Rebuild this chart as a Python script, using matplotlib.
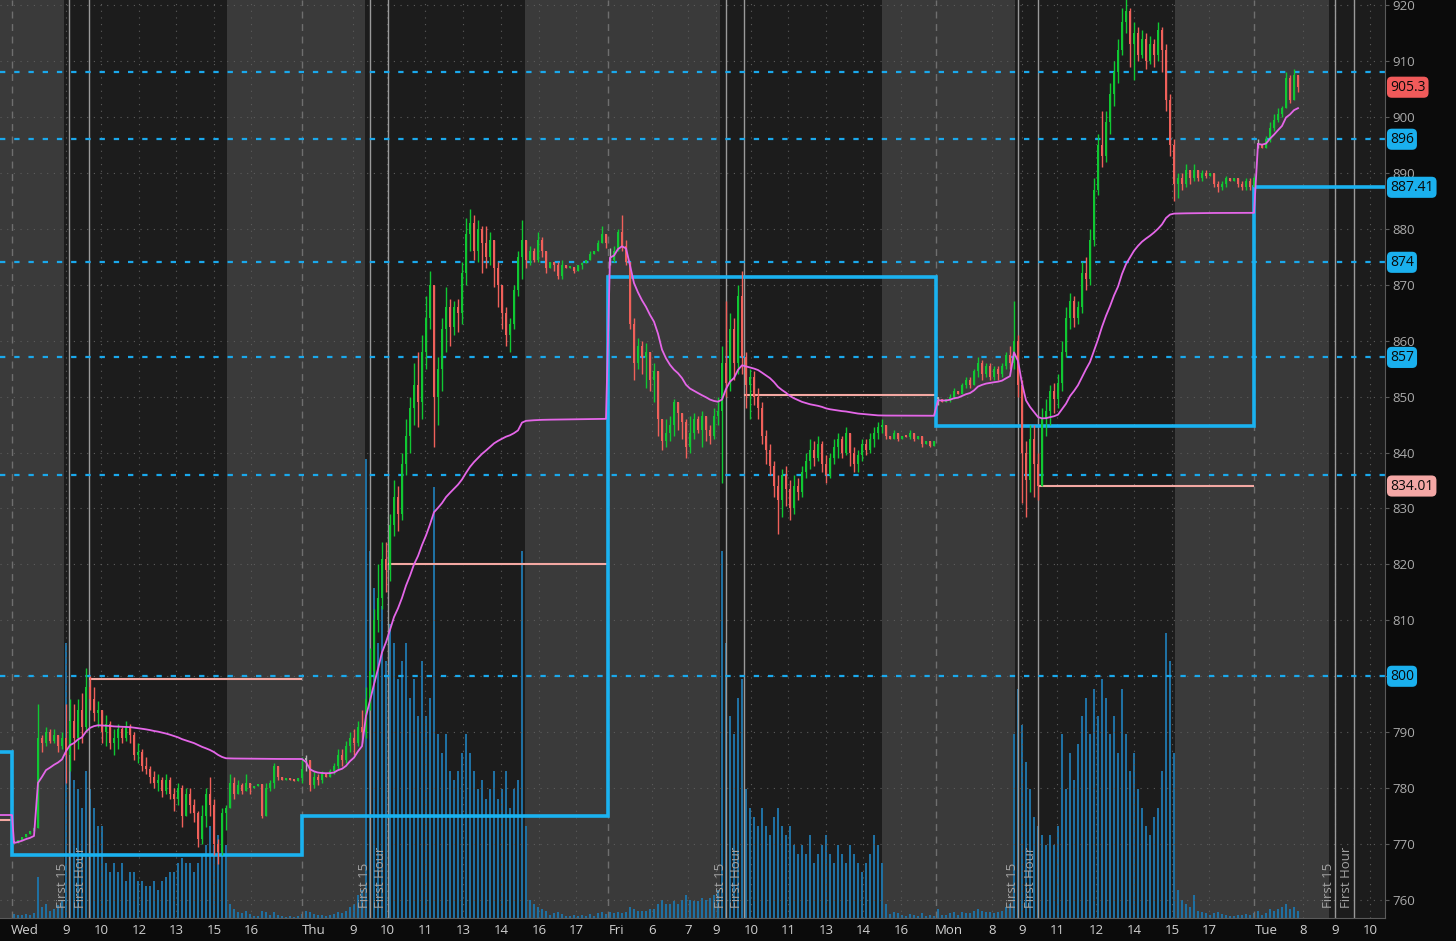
import numpy as np
import matplotlib.pyplot as plt

plt.rcParams['font.family'] = ['Open Sans', 'DejaVu Sans']

N = np.nan

# ---- intraday bars (close / high / low / volume), one array per session ----
wed_pre_c = [770.2, 770.8, 771.3, 771.8, 772.3, 772.8, 789.0, 788.0, 790.0, 788.5, 789.5, 787.5, 789.0]
wed_pre_h = [N, N, N, N, N, N, 795, 789.5, 791, 790.5, 790.5, 789.5, 790]
wed_pre_l = [N, N, N, N, N, N, 779, 786.5, 787.5, 788, 788, 786.5, 787]
wed_pre_v = [0.4, 0.3, 0.3, 0.4, 0.3, 0.5, 4.5, 1.2, 1.5, 0.8, 1.0, 1.4, 2.0]

wed_c = [786, 792, 789, 794, 791, 798, 796, 793.5, 794, 790,
         791.5, 788, 789, 790.5, 789, 791, 789.5, 786, 786.5, 784,
         783.5, 782, 781, 781.5, 779.5, 781.5, 779, 778, 780, 775,
         779, 777, 775.5, 771, 775, 779, 777, 770, 768.5, 775.5, 776.5]
wed_h = [795, 796, 795, 796, 797, 801.5, 800, 798, 795.5, 794,
         793, 792, 790.5, 791.5, 791, 792, 791.5, 790, 788, 787,
         785.5, 784, 783, 782.5, 782, 782.5, 782, 780, 781, 780.5,
         780, 780, 778, 776, 777, 780, 782, 778, 771, 776.5, 777]
wed_l = [781, 783, 785, 787, 788, 790, 794, 792, 791, 788,
         787.5, 787, 786, 787, 788, 788.5, 788, 785, 784.5, 783,
         782.5, 781, 780, 779.5, 778.5, 779, 778, 776, 777, 773,
         775, 775.5, 774, 769.5, 770, 773, 775, 768, 766.5, 768, 772.5]
wed_v = [30, 18, 15, 14, 12, 16, 14, 12, 10, 10,
         6, 5, 6, 5, 6, 4, 5, 5, 4, 4,
         3.5, 3.5, 4, 3, 4, 4.5, 5, 5, 6, 6.5,
         6, 6, 5, 6, 7, 8, 10, 8, 9, 10, 8]

wed_post_c = [781, 779, 780.5, 779.5, 781, 780, 780.3, 780.8, 775, 780,
              781, 784, 782, 781.5, 781.8, 781.5, 781.2, 781.8, 783.5]
wed_post_h = [782.5, 782, 781.5, 781, 782.5, 781, N, N, 780.5, 781,
              781.5, 784.5, 783, N, N, N, N, N, 785.5]
wed_post_l = [778, 778, 779.5, 779, 779.5, 779, N, N, 774.7, 775,
              779.5, 780, 781.5, N, N, N, N, N, 781]
wed_post_v = [1.5, 1.0, 0.6, 0.5, 0.8, 0.4, 0.2, 0.2, 0.8, 0.6,
              0.3, 0.6, 0.3, 0.2, 0.1, 0.2, 0.1, 0.2, 0.4]

thu_pre_c = [785, 780.5, 782, 781.5, 782.5, 782, 783, 784, 786, 785, 787.5, 789, 788, 791, 790]
thu_pre_h = [786, 785, 783, 782.5, 783, N, 783.5, 784.5, 787, 787, 788.5, 790, 790.5, 792, 794]
thu_pre_l = [783, 779.5, 780, 780.5, 781, N, 782, 782.5, 783.5, 784, 784.5, 786.5, 786, 787.5, 788]
thu_pre_v = [0.8, 0.6, 0.4, 0.3, 0.3, 0.2, 0.3, 0.4, 0.6, 0.5, 0.8, 1.2, 1.5, 2.5, 3]

thu_c = [796, 801, 810, 814, 821, 819, 827, 832, 829, 838,
         843, 848, 852, 849, 858, 864, 870, 850, 855, 862,
         866, 862.5, 866, 865, 872, 879, 881, 876, 880, 877.5,
         875, 878, 873, 870, 865, 861, 863, 869, 875, 878, 874.5]
thu_h = [798, 805, 812, 820, 824, 824, 829, 835, 834, 840,
         846, 850, 856, 858, 861, 868, 872.5, 868, 857, 864,
         869.5, 867.5, 867, 867.5, 874, 882, 883.5, 882.5, 881.5, 880.5,
         880.5, 879.5, 878, 874, 870, 866, 864, 870, 876, 881.5, 877.5]
thu_l = [789, 794, 799, 808, 812, 815, 817, 825, 826, 828,
         836, 840, 845, 844.5, 846, 855, 862, 841, 845, 851,
         858, 859, 861, 861.5, 863, 870, 876, 874.5, 874, 872,
         873, 873.5, 869.5, 866, 862, 859, 858, 862, 868, 871, 873]
thu_v = [50, 40, 36, 30, 34, 28, 32, 30, 26, 28,
         30, 24, 26, 22, 28, 22, 24, 47, 20, 18,
         20, 16, 15, 16, 18, 20, 18, 16, 14, 15,
         13, 14, 16, 13, 14, 16, 12, 14, 15, 40, 10]

thu_post_c = [876, 874.5, 878, 876, 873, 874, 873.5, 871.5, 873.5, 873,
              873.2, 872.5, 873.5, 873.8, 874.5, 875.5, 876, 877.5, 879, 877.5]
thu_post_h = [877, 876.5, 879.5, 878.5, 876, N, 874, 874, 874.5, N,
              N, 873.2, N, 874, N, 876, N, 878, 880.5, 878.5]
thu_post_l = [873.5, 874, 874, 875, 872, N, 872.5, 871, 871, N,
              N, 872, N, 872.8, N, 874.5, N, 876, 877.5, 876.5]
thu_post_v = [2, 1.5, 1.2, 1, 0.8, 0.3, 0.5, 0.6, 0.4, 0.2,
              0.2, 0.3, 0.2, 0.3, 0.2, 0.4, 0.2, 0.5, 0.6, 0.4]

fri_pre_c = [874.5, 876, 879.5, 877, 874, 863, 856, 859, 857, 858,
             853, 854.5, 846, 842, 843.5, 845, 849, 847, 845.5, 841,
             843.5, 846, 844, 846.5, 844, 843, 846.5, 847.5]
fri_pre_h = [876.5, 877, 880, 882.5, 878, 871, 864, 860.5, 860, 859.5,
             858, 856, 854, 846, 846, 846.5, 849.5, 849, 847, 846,
             846.5, 847, 846.5, 847.5, 846, 845, 848, 850]
fri_pre_l = [873.5, 874, 876, 876, 873.5, 862, 853, 855, 854, 851.5,
             851, 849, 843, 840.5, 841, 842, 843, 844, 842.5, 839,
             840, 842.5, 843.5, 841, 842, 841.5, 842.5, 845]
fri_pre_v = [0.6, 0.5, 0.6, 0.5, 0.6, 1.2, 1, 0.8, 0.8, 0.8,
             1, 1, 1.5, 2, 1.5, 1.5, 1.8, 1.5, 2, 2.5,
             2, 1.8, 1.8, 2.2, 2, 2.2, 2.5, 3]

fri_c = [856, 852.5, 862, 856, 868, 857, 852, 853.5, 850, 848,
         843, 840.5, 837.5, 834, 831.5, 836, 833.5, 830, 834, 833,
         836.5, 838.5, 840.5, 839, 841.5, 838, 836, 839, 841, 842.5,
         840, 843.5, 840, 838, 839.5, 841.5, 840.5, 842.5, 843.5, 844.5, 845]
fri_h = [859, 867, 865, 864, 870, 872.5, 858, 855, 854.5, 851.5,
         849, 844, 841.5, 838.5, 836, 837, 837.5, 835, 836, 835.5,
         837.5, 840, 842.5, 842, 843, 842, 839.5, 840, 842.5, 843.5,
         843, 844.5, 843, 841, 840.5, 842.5, 842.5, 843.5, 844.5, 845.5, 846]
fri_l = [834.5, 850, 851, 853, 854, 854, 848, 846, 848.5, 846,
         841.5, 838, 836, 832, 825.5, 828.5, 830.5, 828, 829, 831.5,
         832, 835.5, 837, 837.5, 838.5, 836.5, 834.5, 835.5, 838, 839,
         839, 839.5, 837.5, 836.5, 836.5, 838.5, 839.5, 840, 841, 842.5, 843.5]
fri_v = [40, 30, 22, 20, 24, 26, 14, 12, 11, 10,
         12, 10, 9, 11, 12, 10, 9, 10, 8, 7,
         8, 7, 9, 6, 7, 8, 9, 7, 6, 8,
         7, 6, 8, 7, 6, 5, 6, 7, 9, 8, 6]

fri_post_c = [843, 842.5, 843.5, 842.5, 843, 842.8, 843.5, 842.5, 843, 841.5, 842, 841.2, 842]
fri_post_h = [844, N, 844, 843.5, N, N, 844, 843.5, N, 843, N, 842, N]
fri_post_l = [842.5, N, 842.5, 842, N, N, 842.5, 842, N, 841, N, 841, N]
fri_post_v = [1.5, 0.4, 0.6, 0.5, 0.3, 0.2, 0.4, 0.3, 0.2, 0.5, 0.2, 0.3, 0.2]

mon_pre_c = [849.5, 849, 849.5, 850, 851, 850.5, 852, 853, 852, 854.5,
             856, 854, 855.5, 853.5, 855, 854, 855.5, 857.5, 856, 860]
mon_pre_h = [850, N, N, 850.5, 851.5, N, 852.5, 853.5, 853.5, 855,
             857, 856.5, 856, 856, 855.5, 855.5, 856, 858, 859, 867]
mon_pre_l = [848.5, N, N, 849, 849.5, N, 850.5, 851.5, 851.5, 852,
             853.5, 853, 853.5, 853, 853, 853, 853.5, 855, 855, 855]
mon_pre_v = [1, 0.3, 0.3, 0.5, 0.6, 0.3, 0.6, 0.5, 0.5, 0.8,
             1, 0.8, 0.6, 0.6, 0.5, 0.6, 0.8, 1.2, 1.5, 20]

mon_c = [852, 840, 835, 842.5, 838, 834, 846, 847.5, 851, 849.5,
         852.5, 858, 864, 867, 864, 866, 872, 871, 878, 887,
         895, 893, 899, 904, 908, 912, 917, 919, 913, 915,
         911, 914, 910, 913, 911, 915.5, 912, 903, 895, 888]
mon_h = [861, 853, 842, 845, 845, 840, 848, 849.5, 852, 852.5,
         854, 860, 866, 868.5, 868, 867, 874, 875, 880, 889,
         897, 901, 901, 906, 910, 914, 919.5, 921, 919.5, 917,
         916, 915.5, 915, 914.5, 914, 917, 916, 913, 904, 896]
mon_l = [850, 831, 828.5, 833, 832, 831.5, 834, 843, 845, 847,
         848, 851, 857, 862, 862.5, 863, 865, 869, 870, 877,
         886, 891, 892, 897, 902, 906, 911, 915, 909, 906.5,
         910, 910.5, 908.5, 909.5, 909, 910, 908, 901, 893, 885]
mon_v = [25, 21, 17, 14, 11, 10, 9, 8, 9, 8,
         10, 20, 14, 18, 15, 19, 22, 24, 20, 25,
         22, 26, 24, 20, 22, 18, 25, 20, 16, 18,
         14, 12, 10, 9, 11, 12, 16, 31, 28, 18]

mon_post_c = [889, 888, 890.5, 889, 890.5, 889, 890, 889.5, 890, 888,
              887.5, 888, 889, 888.5, 889, 888, 887.5, 888.5, 887.5, 889]
mon_post_h = [890, 890, 891.5, 890.5, 891.5, 890.5, 890.5, 890.5, N, 889.5,
              888.5, 888.5, 889.5, N, N, 889, 888.5, 889, 889, 889.5]
mon_post_l = [885.5, 887, 887.5, 888, 888.5, 888.5, 888.5, 889, N, 887.5,
              886.5, 887, 887.5, N, N, 887.5, 887, 887, 887, 887.5]
mon_post_v = [3, 2, 1.5, 1.2, 2.5, 0.8, 0.6, 0.5, 0.3, 0.5,
              0.6, 0.4, 0.3, 0.2, 0.2, 0.3, 0.3, 0.4, 0.3, 0.5]

tue_pre_c = [895, 894.5, 896, 898, 899.5, 900.5, 901.5, 907, 903, 907.5, 905.3]
tue_pre_h = [896, N, 896.5, 899, 900.5, 901.5, 902, 908, 907.5, 908.5, 907.5]
tue_pre_l = [894.5, N, 894.5, 895.5, 897.5, 899, 900, 902, 902.5, 903, 904.5]
tue_pre_v = [0.8, 0.3, 0.5, 1, 0.8, 1, 1.2, 1.5, 1, 1.2, 0.8]

# ---- reference levels ----
levels = [908, 896, 874, 857, 836, 800]
level_tags = ['896', '874', '857', '800']
step_vals = [786.5, 768, 775, 871.3, 844.7, 887.41]
orl_vals = [774.3, 799.5, 820.1, 850.3, 834.01]
prev_vwap = 775.2
last_price = 905.3

xtick_labels = ['Wed', '9', '10', '12', '13', '15', '16', 'Thu', '9', '10', '11', '13', '14',
                '16', '17', 'Fri', '6', '7', '9', '10', '11', '13', '14', '16', 'Mon', '8',
                '9', '11', '12', '14', '15', '17', 'Tue', '8', '9', '10']

# ---- layout (pixel-like x units) ----
STEP = 4
xtick_pos = [25, 66, 101, 139, 176, 214, 251, 314, 353, 387, 425, 463, 501, 539, 576, 616,
             652, 688, 716, 751, 788, 826, 863, 901, 949, 992, 1022, 1057, 1096, 1134, 1172,
             1209, 1266, 1303, 1335, 1370]
day_edges = [0, 12, 302, 608, 936, 1254, 1385]
orl_start = [0, 89, 388, 744, 1038]
bands = [(0, 64, 'l'), (64, 227, 'd'), (227, 365, 'l'), (365, 525, 'd'), (525, 720, 'l'),
         (720, 882, 'd'), (882, 1015, 'l'), (1015, 1175, 'd'), (1175, 1329, 'l'), (1329, 1385, 'd')]
first_lines = [(69, 89), (370, 388), (726, 744), (1018, 1038), (1335, 1354)]

sessions = [
    (14, True, wed_pre_c, wed_pre_h, wed_pre_l, wed_pre_v),
    (66, False, wed_c, wed_h, wed_l, wed_v),
    (230, False, wed_post_c, wed_post_h, wed_post_l, wed_post_v),
    (306, True, thu_pre_c, thu_pre_h, thu_pre_l, thu_pre_v),
    (366, False, thu_c, thu_h, thu_l, thu_v),
    (530, False, thu_post_c, thu_post_h, thu_post_l, thu_post_v),
    (610, True, fri_pre_c, fri_pre_h, fri_pre_l, fri_pre_v),
    (722, False, fri_c, fri_h, fri_l, fri_v),
    (886, False, fri_post_c, fri_post_h, fri_post_l, fri_post_v),
    (938, True, mon_pre_c, mon_pre_h, mon_pre_l, mon_pre_v),
    (1018, False, mon_c, mon_h, mon_l, mon_v),
    (1178, False, mon_post_c, mon_post_h, mon_post_l, mon_post_v),
    (1258, True, tue_pre_c, tue_pre_h, tue_pre_l, tue_pre_v),
]

xs, cs, hs, ls, vs, ds = [], [], [], [], [], []
day = 0
for start, new_day, c, h, l, v in sessions:
    if new_day:
        day += 1
    n = len(c)
    xs.append(start + STEP * np.arange(n))
    cs.append(np.array(c, float))
    hs.append(np.array(h, float))
    ls.append(np.array(l, float))
    vs.append(np.array(v, float))
    ds.append(np.full(n, day))
x = np.concatenate(xs)
c = np.concatenate(cs)
h = np.concatenate(hs)
l = np.concatenate(ls)
v = np.concatenate(vs)
d = np.concatenate(ds)

first = np.r_[True, d[1:] != d[:-1]]
o = np.r_[c[0], c[:-1]]
o[first] = c[first]
hi = np.fmax(h, np.maximum(o, c))
lo = np.fmin(l, np.minimum(o, c))

GREEN, RED, GRAY = '#10c832', '#f0605a', '#b4b4b4'
col = np.where(c > o + 0.05, GREEN, np.where(c < o - 0.05, RED, GRAY))

# vwap reset each day
tp = (hi + lo + c) / 3
vwap = np.zeros_like(c)
for k in np.unique(d):
    m = d == k
    vwap[m] = np.cumsum(tp[m] * v[m]) / np.cumsum(v[m])

# ---- figure ----
fig = plt.figure(figsize=(14.56, 9.41), dpi=100, facecolor='#0b0b0b')
ax = fig.add_axes([0, 23 / 941, 1385 / 1456, 918 / 941])
axv = ax.twinx()
ax.set_zorder(2)
axv.set_zorder(1)
ax.patch.set_visible(False)
axv.patch.set_visible(True)
axv.patch.set_facecolor('#1c1c1c')

ax.set_xlim(0, 1385)
ax.set_ylim(756.79, 920.89)
axv.set_ylim(0, 100)
axv.yaxis.set_visible(False)

for x0, x1, kind in bands:
    axv.axvspan(x0, x1, color='#3a3a3a' if kind == 'l' else '#1c1c1c', lw=0, zorder=0)
axv.bar(x, v, width=2.4, color='#1f70a2', lw=0, zorder=2)

# grid
for p in np.arange(760, 921, 10):
    ax.axhline(p, color='#5c5c5c', lw=0.8, ls=(0, (1, 5)), zorder=1)
for px, lab in zip(xtick_pos, xtick_labels):
    if lab.isdigit():
        ax.axvline(px, color='#5c5c5c', lw=0.8, ls=(0, (1, 5)), zorder=1)
for px in day_edges[1:-1]:
    ax.axvline(px, color='#6e6e6e', lw=1, ls=(0, (5, 4)), zorder=1)
for a, b in first_lines:
    ax.axvline(a, color='#9a9a9a', lw=1, zorder=2)
    ax.axvline(b, color='#9a9a9a', lw=1, zorder=2)
    ax.text(a - 6, 758.6, 'First 15', rotation=90, ha='center', va='bottom',
            fontsize=9.5, color='#a4a4a4', zorder=2)
    ax.text(b - 8, 758.6, 'First Hour', rotation=90, ha='center', va='bottom',
            fontsize=9.5, color='#a4a4a4', zorder=2)

for p in levels:
    ax.axhline(p, color='#1aa8ec', lw=1.6, dashes=(2.4, 4), zorder=3)

ax.hlines(orl_vals, orl_start, day_edges[1:-1], color='#f3a8a2', lw=1.5, zorder=4)
ax.stairs(step_vals, day_edges, baseline=None, color='#1ab2f0', lw=2.6, zorder=4)

ax.vlines(x, lo, hi, colors=col, lw=1, zorder=5)
ax.bar(x, np.maximum(np.abs(c - o), 0.35), bottom=np.minimum(o, c), width=2.6,
       color=col, lw=0, zorder=6)

ax.plot(np.r_[0, day_edges[1], x], np.r_[prev_vwap, prev_vwap, vwap],
        color='#e466e8', lw=1.3, zorder=7)

# axes styling
for s in ['top', 'left']:
    ax.spines[s].set_visible(False)
for s in axv.spines.values():
    s.set_visible(False)
ax.spines['right'].set_color('#5a5a5a')
ax.spines['bottom'].set_color('#5a5a5a')
ax.yaxis.tick_right()
ax.set_yticks(np.arange(760, 921, 10))
ax.tick_params(axis='y', colors='#5a5a5a', labelcolor='#aaaaaa', labelsize=9.5,
               length=3, pad=2)
ax.set_xticks(xtick_pos, xtick_labels)
ax.tick_params(axis='x', length=0, pad=4, labelsize=9.5, labelcolor='#d0d0d0')


def tag(y, text, fc):
    ax.text(1390, y, text, ha='left', va='center', fontsize=10, color='#0a0a0a',
            clip_on=False, zorder=10,
            bbox=dict(boxstyle='round,pad=0.22,rounding_size=0.35', fc=fc, ec='none'))


tag(last_price, f'{last_price:g}', '#f05a5a')
for t in level_tags:
    tag(float(t), t, '#1ab0ee')
tag(step_vals[-1], f'{step_vals[-1]:.2f}', '#1ab0ee')
tag(orl_vals[-1], f'{orl_vals[-1]:.2f}', '#f4a7a5')

fig.savefig('out.png', dpi=100, facecolor=fig.get_facecolor())
